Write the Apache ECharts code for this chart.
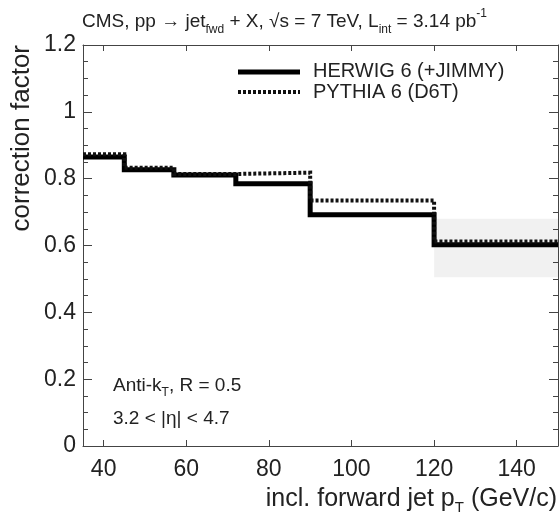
<!DOCTYPE html>
<html>
<head>
<meta charset="utf-8">
<script src="https://cdn.jsdelivr.net/npm/echarts@6/dist/echarts.min.js"></script>
<style>
  html, body { margin: 0; padding: 0; background: #fff; }
  #chart { width: 560px; height: 517px; }
</style>
</head>
<body>
<div id="chart"></div>
<script>
// Bin edges of the forward-jet pT histogram (GeV/c)
const binEdges = [35, 45, 57, 72, 90, 120, 150];
// Correction factor per bin
const herwig = [0.865, 0.827, 0.811, 0.785, 0.692, 0.602];
const pythia = [0.873, 0.833, 0.814, 0.818, 0.735, 0.612];
// Shaded uncertainty band: [from, to] in pT, with low/high edges
const bandRanges = [[120, 150]];
const bandLow = [0.505];
const bandHigh = [0.680];
// Axis ticks
const xTicks = [40, 60, 80, 100, 120, 140];
const yMin = 0, yMax = 1.2, yStep = 0.2;

const FONT = "'Liberation Sans', Arial, Helvetica, sans-serif";

// Histogram outline: one point per edge, last value repeated at the upper edge
function stepPoints(vals) {
  return binEdges.map((e, i) => [e, vals[Math.min(i, vals.length - 1)]]);
}

const bandData = bandRanges.map((r, i) => [r[0], r[1], bandLow[i], bandHigh[i]]);

const chart = echarts.init(document.getElementById('chart'), null, { renderer: 'canvas' });

const axisLineStyle = { color: '#444', width: 1 };

const xBase = {
  type: 'value', min: binEdges[0], max: binEdges[binEdges.length - 1],
  axisLine: { show: true, onZero: false, lineStyle: axisLineStyle },
  axisTick: { show: true, inside: true, length: 6, customValues: xTicks, lineStyle: axisLineStyle },
  splitLine: { show: false }
};
const yBase = {
  type: 'value', min: yMin, max: yMax, interval: yStep,
  axisLine: { show: true, onZero: false, lineStyle: axisLineStyle },
  axisTick: { show: true, inside: true, length: 9, lineStyle: axisLineStyle },
  minorTick: { show: true, splitNumber: 4, length: 5, lineStyle: axisLineStyle },
  splitLine: { show: false }
};

chart.setOption({
  animation: false,
  backgroundColor: '#fff',
  grid: { left: 83, right: 2, top: 45, bottom: 71, containLabel: false },
  xAxis: [
    Object.assign({}, xBase, {
      position: 'bottom',
      axisLabel: { show: true, customValues: xTicks, margin: 12, fontSize: 23, color: '#222', fontFamily: FONT }
    }),
    Object.assign({}, xBase, { position: 'top', axisLabel: { show: false } })
  ],
  yAxis: [
    Object.assign({}, yBase, {
      position: 'left',
      axisLabel: { show: true, margin: 7, fontSize: 23, color: '#222', fontFamily: FONT }
    }),
    Object.assign({}, yBase, { position: 'right', axisLabel: { show: false } })
  ],
  series: [
    {
      type: 'custom',
      xAxisIndex: 0, yAxisIndex: 0,
      data: bandData,
      renderItem: function (params, api) {
        const p0 = api.coord([api.value(0), api.value(3)]);
        const p1 = api.coord([api.value(1), api.value(2)]);
        return {
          type: 'rect',
          shape: { x: p0[0], y: p0[1], width: p1[0] - p0[0], height: p1[1] - p0[1] },
          style: { fill: 'rgba(0,0,0,0.055)' }
        };
      },
      z: 1
    },
    {
      name: 'HERWIG 6 (+JIMMY)',
      type: 'line', step: 'end',
      data: stepPoints(herwig),
      symbol: 'none',
      lineStyle: { color: '#000', width: 5, cap: 'butt', join: 'miter' },
      z: 3
    },
    {
      name: 'PYTHIA 6 (D6T)',
      type: 'line', step: 'end',
      data: stepPoints(pythia),
      symbol: 'none',
      lineStyle: { color: '#111', width: 4, type: [3, 2], cap: 'butt', join: 'miter' },
      z: 4
    }
  ],
  graphic: [
    // title line
    {
      type: 'text', left: 82, top: 8,
      style: {
        text: '{m|CMS, pp → jet}{s|fwd}{m| + X, √s = 7 TeV, L}{s|int}{m| = 3.14 pb}{u|-1}',
        font: '19px ' + FONT, fill: '#222',
        rich: {
          m: { fontSize: 19, fontFamily: FONT, fill: '#222', lineHeight: 28, verticalAlign: 'middle' },
          s: { fontSize: 12, fontFamily: FONT, fill: '#222', lineHeight: 28, verticalAlign: 'bottom' },
          u: { fontSize: 12, fontFamily: FONT, fill: '#222', lineHeight: 28, verticalAlign: 'top' }
        }
      }
    },
    // y axis title
    {
      type: 'text', x: 22, y: 45, rotation: Math.PI / 2,
      style: {
        text: 'correction factor', font: '26px ' + FONT, fill: '#222',
        align: 'right', verticalAlign: 'middle'
      }
    },
    // x axis title
    {
      type: 'text', right: 3, top: 487,
      style: {
        text: '{m|incl. forward jet p}{s|T}{m| (GeV/c)}',
        font: '25px ' + FONT, fill: '#222',
        rich: {
          m: { fontSize: 25, fontFamily: FONT, fill: '#222', lineHeight: 32, verticalAlign: 'middle' },
          s: { fontSize: 15, fontFamily: FONT, fill: '#222', lineHeight: 32, verticalAlign: 'bottom' }
        }
      }
    },
    // annotations
    {
      type: 'text', left: 113, top: 376,
      style: {
        text: '{m|Anti-k}{s|T}{m|, R = 0.5}',
        font: '19px ' + FONT, fill: '#222',
        rich: {
          m: { fontSize: 19, fontFamily: FONT, fill: '#222', lineHeight: 26, verticalAlign: 'middle' },
          s: { fontSize: 12, fontFamily: FONT, fill: '#222', lineHeight: 26, verticalAlign: 'bottom' }
        }
      }
    },
    {
      type: 'text', left: 113, top: 409,
      style: { text: '3.2 < |η| < 4.7', font: '19px ' + FONT, fill: '#222' }
    },
    // legend
    {
      type: 'line', shape: { x1: 238, y1: 72, x2: 300, y2: 72 },
      style: { stroke: '#000', lineWidth: 5 }
    },
    {
      type: 'line', shape: { x1: 238, y1: 92, x2: 300, y2: 92 },
      style: { stroke: '#111', lineWidth: 4, lineDash: [3, 2] }
    },
    {
      type: 'text', left: 313, top: 61,
      style: { text: 'HERWIG 6 (+JIMMY)', font: '20px ' + FONT, fill: '#222' }
    },
    {
      type: 'text', left: 313, top: 82,
      style: { text: 'PYTHIA 6 (D6T)', font: '20px ' + FONT, fill: '#222' }
    }
  ]
});
</script>
</body>
</html>
